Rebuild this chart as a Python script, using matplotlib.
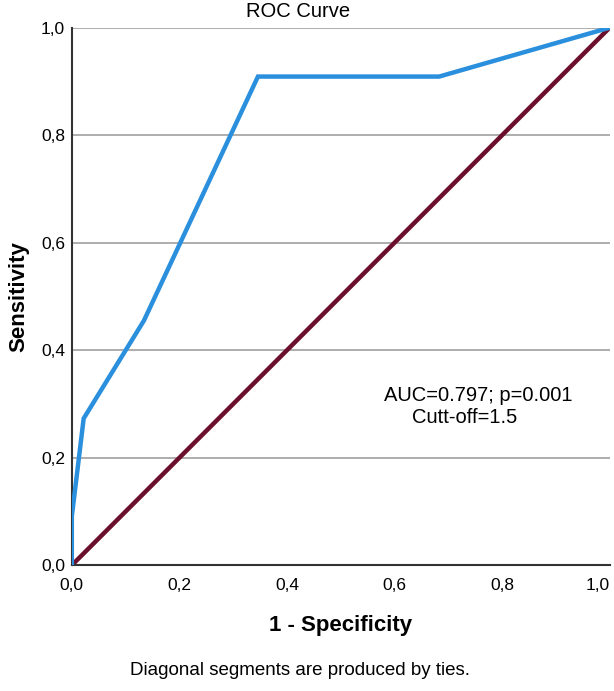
import numpy as np
import matplotlib.pyplot as plt

plt.rcParams['font.family'] = ['Liberation Sans', 'DejaVu Sans']

# ROC data
fpr = [0.0, 0.0, 0.022, 0.134, 0.346, 0.683, 1.0]
tpr = [0.0, 0.091, 0.273, 0.455, 0.909, 0.909, 1.0]
ref_line = [0.0, 1.0]
ticks = [0.0, 0.2, 0.4, 0.6, 0.8, 1.0]
tick_labels = ['0,0', '0,2', '0,4', '0,6', '0,8', '1,0']

fig = plt.figure(figsize=(6.14, 6.91), dpi=100)
ax = fig.add_axes([0.117, 0.182, 0.876, 0.778])

for t in ticks[1:]:
    ax.axhline(t, color='#a0a0a0', lw=1.2, zorder=1)

ax.plot(ref_line, ref_line, color='#6b0f2c', lw=3.2, zorder=2, solid_capstyle='butt')
ax.plot(fpr, tpr, color='#2a8fdc', lw=3.2, zorder=3, solid_joinstyle='miter')

ax.set_xlim(0, 1)
ax.set_ylim(0, 1)
ax.set_xticks(ticks)
ax.set_xticklabels(tick_labels)
ax.set_yticks(ticks)
ax.set_yticklabels(tick_labels)
ax.tick_params(length=0, labelsize=12.5)
ax.tick_params(axis='y', pad=5)
ax.tick_params(axis='x', pad=9)
ax.get_xticklabels()[-1].set_horizontalalignment('right')
for s in ['top', 'right']:
    ax.spines[s].set_visible(False)
for s in ['left', 'bottom']:
    ax.spines[s].set_color('#333333')
    ax.spines[s].set_linewidth(1.5)

ax.set_xlabel('1 - Specificity', fontsize=16, fontweight='bold', labelpad=16)
ax.set_ylabel('Sensitivity', fontsize=16, fontweight='bold', labelpad=8)

ax.text(0.756, 0.315, 'AUC=0.797; p=0.001', fontsize=14.5, ha='center', va='center')
ax.text(0.730, 0.275, 'Cutt-off=1.5', fontsize=14.5, ha='center', va='center')

fig.text(0.485, 0.984, 'ROC Curve', fontsize=14.5, ha='center', va='center')
fig.text(0.488, 0.030, 'Diagonal segments are produced by ties.', fontsize=13.5,
         ha='center', va='center')

fig.savefig('out.png', dpi=100)
